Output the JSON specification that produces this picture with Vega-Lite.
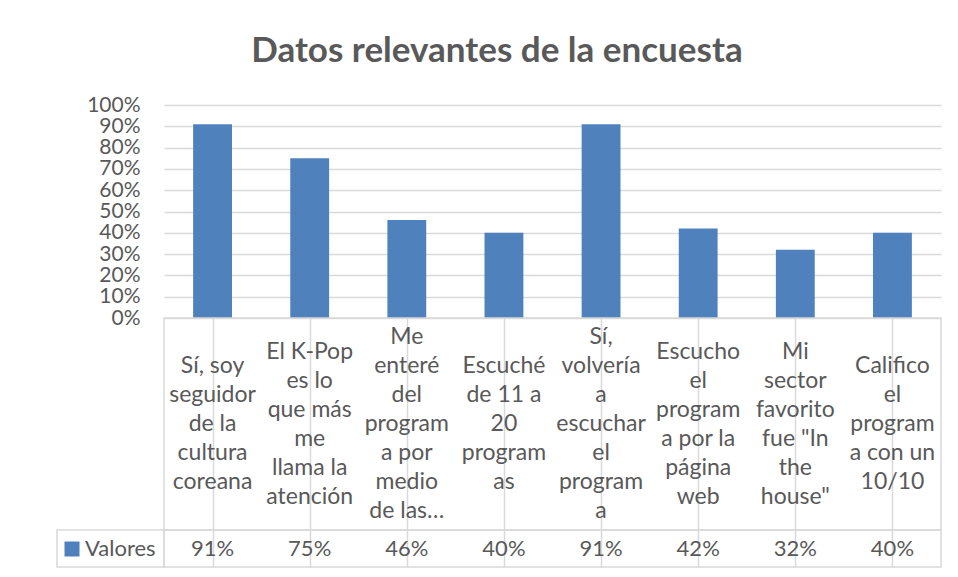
{
  "$schema": "https://vega.github.io/schema/vega-lite/v6.json",
  "background": "white",
  "padding": {"left": 52, "top": 34, "right": 5, "bottom": 5},
  "autosize": {"type": "pad"},
  "title": {"text": "Datos relevantes de la encuesta", "font": "Lato", "fontSize": 35, "fontWeight": "bold", "color": "#595959", "anchor": "middle", "offset": 25},
  "config": {
    "view": {"stroke": "#d9d9d9", "strokeWidth": 1.5},
    "text": {"font": "Lato"},
    "axis": {"labelFont": "Lato"},
    "legend": {"labelFont": "Lato"}
  },
  "datasets": {
    "encuesta": [
      {"pregunta": "Sí, soy\nseguidor\nde la\ncultura\ncoreana", "valor": 0.91},
      {"pregunta": "El K-Pop\nes lo\nque más\nme\nllama la\natención", "valor": 0.75},
      {"pregunta": "Me\nenteré\ndel\nprogram\na por\nmedio\nde las…", "valor": 0.46},
      {"pregunta": "Escuché\nde 11 a\n20\nprogram\nas", "valor": 0.40},
      {"pregunta": "Sí,\nvolvería\na\nescuchar\nel\nprogram\na", "valor": 0.91},
      {"pregunta": "Escucho\nel\nprogram\na por la\npágina\nweb", "valor": 0.42},
      {"pregunta": "Mi\nsector\nfavorito\nfue \"In\nthe\nhouse\"", "valor": 0.32},
      {"pregunta": "Califico\nel\nprogram\na con un\n10/10", "valor": 0.40}
    ]
  },
  "columns": 2,
  "spacing": 0,
  "bounds": "flush",
  "resolve": {"scale": {"color": "independent"}, "legend": {"color": "independent"}},
  "concat": [
    {
      "width": 107, "height": 213,
      "data": {"values": [{}]},
      "mark": "text",
      "encoding": {"text": {"value": ""}},
      "view": {"stroke": null}
    },
    {
      "width": 777, "height": 213,
      "data": {"name": "encuesta"},
      "mark": {"type": "bar", "color": "#4F81BD"},
      "encoding": {
        "x": {"field": "pregunta", "type": "nominal", "sort": null, "axis": null,
              "scale": {"paddingInner": 0.6, "paddingOuter": 0.3}},
        "y": {"field": "valor", "type": "quantitative",
              "scale": {"domain": [0, 1]},
              "axis": {"title": null, "format": ".0%", "values": [0, 0.1, 0.2, 0.3, 0.4, 0.5, 0.6, 0.7, 0.8, 0.9, 1],
                       "grid": true, "gridColor": "#d9d9d9", "gridWidth": 1.5, "domain": false, "ticks": false,
                       "labelFontSize": 21, "labelColor": "#595959", "labelPadding": 24, "labelOverlap": false}}
      },
      "view": {"stroke": null}
    },
    {
      "width": 107, "height": 212,
      "data": {"values": [{}]},
      "mark": "text",
      "encoding": {"text": {"value": ""}},
      "view": {"stroke": null}
    },
    {
      "width": 777, "height": 212,
      "data": {"name": "encuesta"},
      "mark": {"type": "text", "lineBreak": "\n", "fontSize": 23, "lineHeight": 29, "color": "#595959", "baseline": "middle", "align": "center",
               "dy": {"expr": "-(length(split(datum.pregunta, '\\n')) - 1) * 14.5"}},
      "encoding": {
        "x": {"field": "pregunta", "type": "nominal", "sort": null,
              "axis": {"title": null, "labels": false, "ticks": false, "domain": false, "grid": true, "bandPosition": 0, "gridColor": "#d9d9d9", "gridWidth": 1.5}},
        "text": {"field": "pregunta", "type": "nominal"}
      }
    },
    {
      "width": 107, "height": 37,
      "data": {"values": [{}]},
      "mark": {"type": "rect", "fill": "white", "stroke": "#d9d9d9", "strokeWidth": 1.5},
      "encoding": {}
    },
    {
      "width": 777, "height": 37,
      "data": {"name": "encuesta"},
      "encoding": {
        "x": {"field": "pregunta", "type": "nominal", "sort": null,
              "axis": {"title": null, "labels": false, "ticks": false, "domain": false, "grid": true, "bandPosition": 0, "gridColor": "#d9d9d9", "gridWidth": 1.5}}
      },
      "layer": [
        {
          "mark": {"type": "text", "fontSize": 22, "color": "#595959", "baseline": "middle", "align": "center"},
          "encoding": {"text": {"field": "valor", "type": "quantitative", "format": ".0%"}}
        },
        {
          "mark": {"type": "square", "opacity": 0},
          "encoding": {
            "color": {"datum": "Valores", "scale": {"range": ["#4F81BD"]},
                      "legend": {"title": null, "orient": "left", "offset": 0, "padding": 8,
                                 "labelFontSize": 22, "labelColor": "#595959", "labelOffset": 2,
                                 "symbolType": "square", "symbolSize": 225, "symbolOpacity": 1, "symbolStrokeWidth": 0}}
          }
        }
      ]
    }
  ]
}
